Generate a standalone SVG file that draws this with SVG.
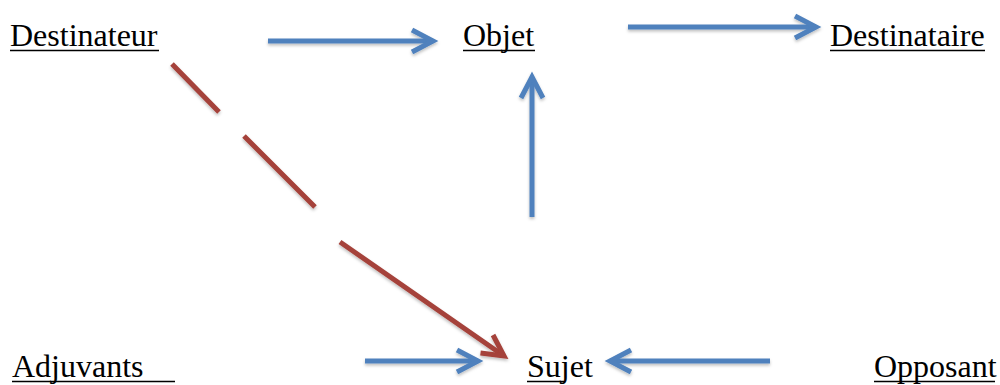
<svg xmlns="http://www.w3.org/2000/svg" width="1000" height="385" viewBox="0 0 1000 385">
<style>
text{font-family:"Liberation Serif","Times New Roman",serif;font-size:32px;fill:#000}
.ul{stroke:#000;stroke-width:1.5}
.b{stroke:#4F81BD;stroke-width:5;fill:none;marker-end:url(#mb);filter:url(#sh)}
.r{stroke:#A5423A;stroke-width:5;fill:none;marker-end:url(#mr);filter:url(#sh)}
</style>
<defs>
<filter id="sh" filterUnits="userSpaceOnUse" x="0" y="0" width="1000" height="385">
<feDropShadow dx="0" dy="2" stdDeviation="1.5" flood-color="#000" flood-opacity="0.25"/>
</filter>
<marker id="mb" markerUnits="userSpaceOnUse" viewBox="-30 -16 36 32" refX="0" refY="0" markerWidth="36" markerHeight="32" orient="auto" overflow="visible">
<path d="M-21,-11 L0,0 L-21,11" fill="none" stroke="#4F81BD" stroke-width="5"/>
</marker>
<marker id="mr" markerUnits="userSpaceOnUse" viewBox="-30 -16 36 32" refX="0" refY="0" markerWidth="36" markerHeight="32" orient="auto" overflow="visible">
<path d="M-21,-11 L0,0 L-21,11" fill="none" stroke="#A5423A" stroke-width="5"/>
</marker>
</defs>
<g id="connectors">
<path class="b" d="M268,41 L433,41"/>
<path class="b" d="M628,27 L816,27"/>
<path class="b" d="M532,217 L532,77"/>
<path class="b" d="M365,361 L478,361"/>
<path class="b" d="M770,361 L610,361"/>
<path class="r" d="M172,64 L219,112 M244,136 L315,207 M340,242 L504,356"/>
</g>
<g id="destinateur"><text x="10" y="46">Destinateur</text><line class="ul" x1="10" y1="50.5" x2="159" y2="50.5"/></g>
<g id="objet"><text x="463" y="46">Objet</text><line class="ul" x1="463" y1="50.5" x2="535" y2="50.5"/></g>
<g id="destinataire"><text x="830" y="46">Destinataire</text><line class="ul" x1="830" y1="50.5" x2="985" y2="50.5"/></g>
<g id="adjuvants"><text x="12" y="377">Adjuvants</text><line class="ul" x1="12" y1="381.5" x2="175" y2="381.5"/></g>
<g id="sujet"><text x="527" y="377">Sujet</text><line class="ul" x1="527" y1="381.5" x2="565" y2="381.5"/></g>
<g id="opposant"><text x="874" y="377">Opposant</text><line class="ul" x1="874" y1="381.5" x2="995" y2="381.5"/></g>
</svg>
